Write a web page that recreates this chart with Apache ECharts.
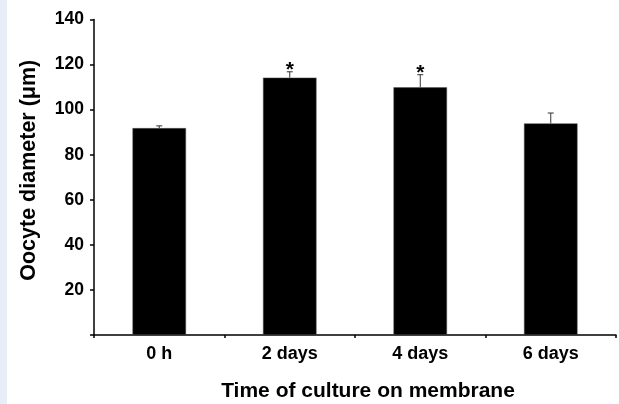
<!DOCTYPE html>
<html><head><meta charset="utf-8">
<script src="https://cdn.jsdelivr.net/npm/echarts@6/dist/echarts.min.js"></script>
<style>html,body{margin:0;padding:0;background:#fff}#c{width:619px;height:404px}</style>
</head><body><div id="c"></div>
<script>
var categories = ['0 h', '2 days', '4 days', '6 days'];
var means = [91.8, 114.2, 109.9, 93.9];
var errors = [1.0, 2.6, 5.6, 4.6];
var marks = ['', '*', '*', ''];
var yTicks = { min: 0, max: 140, interval: 20 };

var FONT = '"Liberation Sans", Arial, sans-serif';
var chart = echarts.init(document.getElementById('c'), null, { renderer: 'canvas' });

var errData = means.map(function (m, i) { return [i, m, m + errors[i], marks[i]]; });

chart.setOption({
  backgroundColor: '#fff',
  animation: false,
  graphic: [{ type: 'rect', left: 0, top: 0, shape: { width: 7, height: 404 }, style: { fill: '#e8eef8' }, z: -1 }],
  grid: { left: 94, right: 3, top: 19.5, bottom: 69, containLabel: false, outerBoundsMode: 'none' },
  xAxis: {
    type: 'category',
    data: categories,
    name: 'Time of culture on membrane',
    nameLocation: 'middle',
    nameGap: 46,
    nameTextStyle: { fontFamily: FONT, fontWeight: 'bold', fontSize: 21, color: '#000', padding: [0, 0, 0, 26] },
    axisLine: { lineStyle: { color: '#000', width: 1.5 } },
    axisTick: { show: true, length: 3, lineStyle: { color: '#000', width: 1.5 } },
    axisLabel: { fontFamily: FONT, fontWeight: 'bold', fontSize: 18, color: '#000', margin: 10 }
  },
  yAxis: {
    type: 'value',
    min: yTicks.min, max: yTicks.max, interval: yTicks.interval,
    name: 'Oocyte diameter (μm)',
    nameLocation: 'middle',
    nameGap: 54,
    nameTextStyle: { fontFamily: FONT, fontWeight: 'bold', fontSize: 21.5, color: '#000', padding: [0, 0, 0, 14] },
    axisLine: { show: true, lineStyle: { color: '#000', width: 1.5 } },
    axisTick: { show: true, length: 4, lineStyle: { color: '#000', width: 1.5 } },
    splitLine: { show: false },
    axisLabel: {
      fontFamily: FONT, fontWeight: 'bold', fontSize: 17.5, color: '#000', margin: 10,
      formatter: function (v) { return v === 0 ? '' : String(v); }
    }
  },
  series: [{
    type: 'bar',
    data: means,
    barWidth: '41%',
    itemStyle: { color: '#000', borderColor: '#555', borderWidth: 0.5 }
  }, {
    type: 'custom',
    data: errData,
    z: 5,
    renderItem: function (params, api) {
      var x = api.value(0);
      var base = api.coord([x, api.value(1)]);
      var top = api.coord([x, api.value(2)]);
      var cap = 3;
      var children = [
        { type: 'line', shape: { x1: base[0], y1: base[1], x2: top[0], y2: top[1] }, style: { stroke: '#333', lineWidth: 1 } },
        { type: 'line', shape: { x1: top[0] - cap, y1: top[1], x2: top[0] + cap, y2: top[1] }, style: { stroke: '#333', lineWidth: 1 } }
      ];
      var mk = marks[params.dataIndex];
      if (mk) {
        children.push({ type: 'text', style: { text: mk, x: top[0], y: top[1] + 9, align: 'center', verticalAlign: 'bottom', font: 'bold 21px ' + FONT, fill: '#000' } });
      }
      return { type: 'group', children: children };
    }
  }]
});
</script>
</body></html>
